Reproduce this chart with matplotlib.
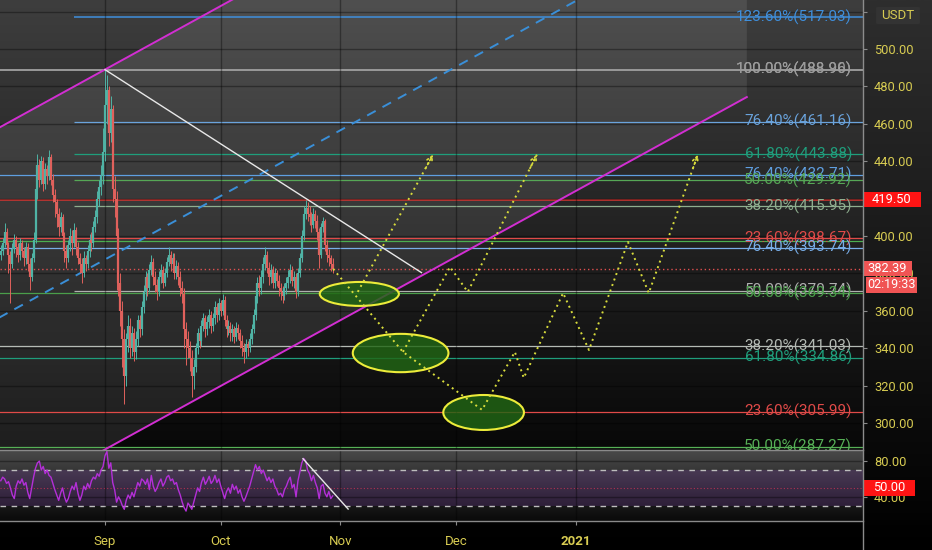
import numpy as np
import matplotlib.pyplot as plt
import matplotlib.transforms as mtransforms
from matplotlib.colors import LinearSegmentedColormap
from matplotlib.patches import Ellipse, Rectangle, FancyBboxPatch
from matplotlib.lines import Line2D

plt.rcParams['font.family'] = ['Roboto', 'DejaVu Sans']

# ---------------- data ----------------
# 12h candles, x is days from 1 Sep 2020, first bar at day -27
start_day = -27.0
first_open = 390
closes = [392, 396, 402, 395, 390, 385, 393, 398, 394, 390,
          396, 392, 388, 394, 385, 378, 388, 398, 425, 438,
          430, 440, 428, 436, 432, 442, 430, 422, 418, 412,
          405, 410, 400, 392, 388, 395, 400, 396, 403, 394,
          388, 385, 380, 388, 385, 392, 398, 396, 405, 410,
          420, 426, 432, 445, 470, 478, 455, 468, 425, 420,
          400, 375, 360, 345, 325, 345, 352, 340, 348, 338,
          345, 355, 350, 362, 370, 378, 372, 382, 386, 378,
          374, 370, 378, 382, 375, 380, 386, 390, 385, 388,
          380, 384, 378, 372, 369, 350, 345, 340, 335, 325,
          330, 340, 348, 344, 352, 356, 350, 354, 358, 352,
          356, 362, 358, 364, 360, 366, 355, 350, 352, 348,
          350, 346, 351, 348, 344, 340, 338, 342, 340, 345,
          350, 358, 368, 375, 372, 378, 385, 390, 383, 378,
          382, 375, 380, 376, 372, 370, 368, 372, 375, 378,
          382, 376, 378, 370, 380, 388, 400, 412, 415, 412,
          410, 406, 412, 408, 402, 390, 405, 408, 395, 390,
          388, 385, 382.39]
highs = [395, 399, 407, 404, 397, 392, 396, 401, 400, 396,
         399, 398, 394, 397, 396, 388, 391, 402, 430, 444,
         441, 443, 442, 439, 438, 446, 444, 433, 425, 420,
         415, 413, 412, 402, 395, 398, 404, 403, 407, 405,
         397, 391, 388, 392, 390, 395, 401, 402, 408, 414,
         424, 430, 438, 458, 489, 486, 480, 475, 470, 432,
         424, 404, 380, 365, 350, 348, 358, 356, 352, 351,
         349, 358, 358, 365, 374, 381, 380, 385, 390, 388,
         381, 377, 381, 385, 384, 383, 389, 394, 392, 391,
         391, 387, 386, 381, 376, 372, 354, 349, 344, 339,
         334, 343, 351, 350, 355, 359, 358, 357, 361, 360,
         359, 365, 364, 367, 366, 369, 368, 358, 355, 354,
         353, 352, 354, 353, 350, 347, 343, 345, 344, 348,
         353, 361, 371, 378, 379, 382, 389, 394, 392, 386,
         385, 384, 383, 382, 379, 375, 373, 375, 378, 382,
         385, 384, 381, 380, 383, 391, 403, 416, 419.5, 418,
         416, 413, 415, 414, 411, 404, 407, 410, 409, 398,
         393, 390, 388]
lows = [387, 390, 394, 392, 380, 364, 383, 391, 389, 386,
        387, 389, 384, 385, 381, 371, 376, 386, 396, 420,
        426, 428, 424, 425, 428, 430, 427, 418, 410, 405,
        400, 402, 396, 386, 383, 386, 392, 390, 394, 390,
        385, 380, 375, 378, 381, 383, 389, 392, 394, 402,
        407, 416, 422, 428, 440, 460, 448, 450, 418, 410,
        371, 368, 352, 330, 310, 320, 338, 335, 336, 333,
        334, 341, 346, 347, 359, 366, 368, 370, 379, 374,
        370, 366, 368, 375, 372, 373, 378, 384, 381, 382,
        377, 377, 374, 368, 364, 340, 331, 335, 328, 314,
        318, 327, 337, 340, 341, 349, 346, 347, 351, 348,
        349, 353, 354, 355, 357, 358, 352, 346, 347, 344,
        344, 343, 344, 345, 340, 336, 332, 335, 336, 338,
        342, 348, 355, 364, 368, 369, 375, 382, 380, 374,
        375, 372, 372, 373, 368, 366, 364, 366, 369, 372,
        375, 373, 372, 367, 368, 378, 386, 398, 409, 408,
        406, 402, 404, 404, 398, 383, 388, 402, 392, 386,
        384, 381, 380]
rsi = [58, 62, 60, 55, 57, 50, 42, 38, 52, 58,
       55, 60, 53, 56, 45, 38, 50, 62, 72, 78,
       80, 70, 74, 66, 70, 64, 62, 55, 48, 42,
       36, 44, 50, 40, 34, 38, 46, 52, 48, 56,
       44, 36, 42, 52, 48, 55, 50, 58, 62, 60,
       66, 63, 70, 74, 86, 91, 72, 78, 56, 48,
       34, 40, 36, 30, 26, 36, 42, 38, 45, 40,
       48, 56, 52, 60, 58, 54, 60, 48, 64, 52,
       46, 50, 56, 60, 52, 56, 62, 64, 58, 60,
       54, 56, 48, 42, 34, 28, 24, 33, 30, 26,
       34, 42, 50, 46, 56, 62, 54, 58, 63, 55,
       58, 64, 56, 60, 52, 45, 38, 46, 50, 44,
       54, 48, 52, 44, 48, 40, 35, 40, 46, 52,
       60, 68, 76, 70, 74, 66, 70, 64, 58, 62,
       56, 60, 52, 48, 42, 44, 40, 48, 52, 58,
       62, 50, 54, 40, 58, 68, 78, 83, 80, 70,
       66, 58, 64, 56, 50, 38, 52, 54, 44, 40,
       46, 38, 41]

month_days = [0, 30, 61, 91, 122]
month_labels = ['Sep', 'Oct', 'Nov', 'Dec', '2021']
price_ticks = [300, 320, 340, 360, 380, 400, 420, 440, 460, 480, 500, 520]
hidden_ticks = [420, 520]   # covered by the price boxes on the axis
rsi_ticks = [40, 80]

fib_prices = [517.03, 488.96, 488.90, 461.16, 443.88, 432.71, 429.92, 415.95,
              398.67, 397.30, 393.74, 370.74, 369.34, 341.03, 334.86, 305.99, 287.27]
fib_labels = ['123.60%(517.03)', '100.00%(488.96)', '100.00%(488.90)', '76.40%(461.16)',
              '61.80%(443.88)', '76.40%(432.71)', '50.00%(429.92)', '38.20%(415.95)',
              '23.60%(398.67)', '', '76.40%(393.74)', '50.00%(370.74)', '50.00%(369.34)',
              '38.20%(341.03)', '61.80%(334.86)', '23.60%(305.99)', '50.00%(287.27)']
fib_from = [-8, -30, -30, -8, -8, -30, -8, -8, -30, -30, -30, -8, -30, -30, -30, -30, -30]

last_price = 382.39
resistance = 419.50
countdown = '02:19:33'

# parallel channel (lower line points) and its width in price
chan_lower = [(-30, 251.8), (166.3, 474.3)]
chan_width = 203.2

trend_line = [(0, 488.96), (82, 380.4)]
rsi_trend = [(51.3, 82.7), (63.0, 26.3)]

path_a = [(59.1, 382.39), (77.2, 338.0), (97.7, 307.0), (106.2, 338.0), (108.5, 324.1),
          (118.7, 369.5), (125.4, 339.0), (135.5, 396.8), (140.9, 369.5), (153.6, 443.5)]
path_b = [(77.2, 338.0), (89.4, 383.4), (94.0, 370.1), (111.9, 443.5)]
path_c = [(65.5, 370.1), (85.0, 443.5)]

zones = [(65.9, 369.0, 20.5, 12.8), (76.6, 337.4, 24.8, 20.5), (98.1, 305.6, 20.9, 18.7)]

# ---------------- styles ----------------
fib_colors = ['#3f8fdc', '#a8a8a8', '#9a9a9a', '#6aa3dc', '#1f9e7c', '#5f9fe0', '#56a756',
              '#8fae8f', '#e04a48', '#4caf50', '#78aee8', '#b0b0b0', '#4a9e4a',
              '#b4bab4', '#1f9e7c', '#e04a48', '#56b056']
YEL = '#d8cc52'
DOT = '#d9dd3c'
MAG = '#d22ed2'
XMIN, XMAX = -27.2, 196.4


def paint(a, top, bottom, z=0):
    cmap = LinearSegmentedColormap.from_list('bg', [top, bottom])
    a.imshow(np.linspace(0, 1, 256).reshape(-1, 1), cmap=cmap, aspect='auto',
             extent=(0, 1, 0, 1), transform=a.transAxes, origin='upper', zorder=z)


fig = plt.figure(figsize=(9.32, 5.5), dpi=100)
fig.patch.set_facecolor('black')

bg = fig.add_axes([0, 0, 1, 1], zorder=-5)
paint(bg, '#2e2e2e', '#000000')
bg.set_xlim(0, 1)
bg.set_ylim(0, 1)
bg.axis('off')

pane_w = 863 / 932
ax = fig.add_axes([0, 1 - 449.5 / 550, pane_w, 449.5 / 550])
ax2 = fig.add_axes([0, 1 - 521 / 550, pane_w, 71.5 / 550])

# ---------------- main pane ----------------
ax.set_facecolor('none')
paint(ax, '#3e3e3e', '#080808')

cx = np.array([p[0] for p in chan_lower])
lower = np.array([p[1] for p in chan_lower])
upper = lower + chan_width
ax.fill_between(cx, lower, upper, color='white', alpha=0.09, lw=0, zorder=0.5)
ax.plot(cx, lower, color=MAG, lw=1.4, zorder=2)
ax.plot(cx, upper, color=MAG, lw=1.4, zorder=2)
ax.plot(cx, lower + chan_width / 2, color='#3a8fd8', lw=1.4, ls=(0, (5, 4)), zorder=2)

for p, c, s in zip(fib_prices, fib_colors, fib_from):
    ax.hlines(p, s, XMAX, color=c, lw=1.1 if p > 488 else 0.9, zorder=1)
ax.axhline(resistance, color='#e53935', lw=1.1, zorder=1)
ax.axhline(last_price, color='#e05050', lw=1, ls=(0, (1, 2)), zorder=1)

blend = mtransforms.blended_transform_factory(ax.transAxes, ax.transData)
for p, lab, c in zip(fib_prices, fib_labels, fib_colors):
    if lab:
        ax.text(852 / 863, p, lab, transform=blend, ha='right', va='center',
                color=c, fontsize=11, zorder=6, clip_on=True)

# candles
cl = np.array(closes, dtype=float)
hi = np.array(highs, dtype=float)
lo = np.array(lows, dtype=float)
op = np.r_[first_open, cl[:-1]]
days = start_day + 0.5 * np.arange(len(cl))
cols = np.where(cl >= op, '#4fb3a5', '#e0615c')
ax.vlines(days, lo, hi, colors=cols, lw=0.7, zorder=3)
ax.vlines(days, np.minimum(op, cl), np.maximum(op, cl), colors=cols, lw=1.6, zorder=3)

ax.plot([p[0] for p in trend_line], [p[1] for p in trend_line], color='#e8e8e8', lw=1, zorder=3)

for cxz, cyz, w, h in zones:
    ax.add_patch(Ellipse((cxz, cyz), w, h, facecolor=(0.13, 0.40, 0.08, 0.82),
                         edgecolor='#ecec3a', lw=1.5, zorder=4))

for path in (path_a, path_b, path_c):
    px = [p[0] for p in path]
    py = [p[1] for p in path]
    ax.plot(px, py, color=DOT, lw=1.4, ls=(0, (1, 2)), zorder=5)
    ax.annotate('', xy=(px[-1], py[-1]), xytext=(px[-2] + (px[-1] - px[-2]) * 0.9,
                                                  py[-2] + (py[-1] - py[-2]) * 0.9),
                arrowprops=dict(arrowstyle='->', color=DOT, lw=1.2, ls=':',
                                shrinkA=0, shrinkB=0, mutation_scale=10), zorder=5)

ax.set_xlim(XMIN, XMAX)
ax.set_ylim(285.8, 526.2)
ax.set_xticks(month_days)
ax.set_yticks(price_ticks)
ax.set_yticklabels(['' if v in hidden_ticks else f'{v:.2f}' for v in price_ticks])
ax.yaxis.tick_right()
ax.tick_params(axis='x', bottom=False, labelbottom=False)
ax.tick_params(axis='y', colors='#8a8a8a', labelcolor=YEL, labelsize=9.3, length=3, pad=5)
ax.grid(True, color='black', alpha=0.35, lw=1, zorder=0.6)
for s in ax.spines.values():
    s.set_visible(False)

# price axis boxes
ax.add_patch(Rectangle((1.0, resistance - 4.0), 58 / 863, 8.0, transform=blend, clip_on=False,
                       facecolor='#ff1414', lw=0, zorder=10))
ax.text(1.0 + 29 / 863, resistance, f'{resistance:.2f}', transform=blend, ha='center',
        va='center', color='white', fontsize=9.3, zorder=11, clip_on=False)
ax.add_patch(Rectangle((1.0, last_price - 4.0), 49 / 863, 8.0, transform=blend, clip_on=False,
                       facecolor='#f05454', lw=0, zorder=10))
ax.text(1.0 + 24.5 / 863, last_price, f'{last_price:.2f}', transform=blend, ha='center',
        va='center', color='white', fontsize=9.3, zorder=11, clip_on=False)
ax.add_patch(Rectangle((1.0 + 3 / 863, 369.5), 51 / 863, 8.6, transform=blend, clip_on=False,
                       facecolor='#f05454', lw=0, zorder=10))
ax.text(1.0 + 28.5 / 863, 373.8, countdown, transform=blend, ha='center',
        va='center', color='white', fontsize=9, zorder=11, clip_on=False)

# ---------------- RSI pane ----------------
ax2.set_facecolor('none')
paint(ax2, '#4a4a4a', '#0a0a0a')
ax2.axhspan(30, 70, color='#8a3fc0', alpha=0.2, lw=0, zorder=0.5)
ax2.axhline(70, color='#bdbdbd', lw=1, ls=(0, (4, 4)), zorder=1)
ax2.axhline(30, color='#bdbdbd', lw=1, ls=(0, (4, 4)), zorder=1)
ax2.axhline(50, color='#b03050', lw=0.8, ls=(0, (1, 2)), zorder=1)
ax2.plot(days, rsi, color='#b42fd8', lw=1, zorder=3)
ax2.plot([p[0] for p in rsi_trend], [p[1] for p in rsi_trend], color='#e8e8e8', lw=1, zorder=3)

ax2.set_xlim(XMIN, XMAX)
ax2.set_ylim(12.9, 93.0)
ax2.set_xticks(month_days)
ax2.set_xticklabels(month_labels)
ax2.get_xticklabels()[-1].set_fontweight('bold')
ax2.set_yticks(rsi_ticks)
ax2.set_yticklabels([f'{v:.2f}' for v in rsi_ticks])
ax2.yaxis.tick_right()
ax2.tick_params(axis='x', colors='#8a8a8a', labelcolor=YEL, labelsize=9.5, length=3, pad=7)
ax2.tick_params(axis='y', colors='#8a8a8a', labelcolor=YEL, labelsize=9.3, length=3, pad=5)
ax2.grid(True, color='black', alpha=0.35, lw=1, zorder=0.6)
for s in ax2.spines.values():
    s.set_visible(False)

blend2 = mtransforms.blended_transform_factory(ax2.transAxes, ax2.transData)
ax2.add_patch(Rectangle((1.0, 41.0), 52 / 863, 17.9, transform=blend2, clip_on=False,
                        facecolor='#ff1414', lw=0, zorder=10))
ax2.text(1.0 + 26 / 863, 50, '50.00', transform=blend2, ha='center', va='center',
         color='white', fontsize=9.3, zorder=11, clip_on=False)

# ---------------- frame ----------------
fig.add_artist(Line2D([pane_w, pane_w], [0, 1], color='#8c8c8c', lw=1))
for yy in (449.5, 521):
    fig.add_artist(Line2D([0, pane_w], [1 - yy / 550, 1 - yy / 550], color='#8a8a8a', lw=1))

fig.add_artist(FancyBboxPatch((878 / 932, 1 - 23 / 550), 40 / 932, 15 / 550,
                              boxstyle='round,pad=0.002', transform=fig.transFigure,
                              facecolor='#333333', edgecolor='none', zorder=5))
fig.text(898 / 932, 1 - 15.5 / 550, 'USDT', color=YEL, fontsize=9.5, ha='center',
         va='center', zorder=6)

fig.savefig('out.png', dpi=100, facecolor=fig.get_facecolor())
